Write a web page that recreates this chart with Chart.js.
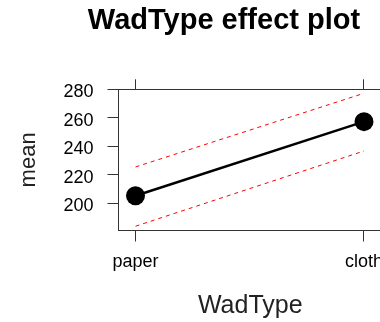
<!DOCTYPE html>
<html>
<head>
<meta charset="utf-8">
<script src="https://cdn.jsdelivr.net/npm/chart.js@4/dist/chart.umd.min.js"></script>
<style>
  html, body { margin: 0; padding: 0; background: #fff; overflow: hidden; }
  #wrap { width: 448px; height: 322px; }
</style>
</head>
<body>
<div id="wrap"><canvas id="c" width="448" height="322"></canvas></div>
<script>
// WadType levels and fitted means with 95% confidence band
const categories = ['paper', 'cloth'];
const fitMean  = [205.3, 257.3];
const ciUpper  = [225.5, 277.2];
const ciLower  = [183.9, 236.7];
const yTicks   = [200, 220, 240, 260, 280];

const toPoints = vals => vals.map((v, i) => ({ x: i, y: v }));
const frame = '#333';
const FONT = '"Liberation Sans", Arial, sans-serif';
const X_MIN = -0.0744, X_MAX = 1.0788;

const levelTicks = scale => { scale.ticks = categories.map((_, i) => ({ value: i })); };

new Chart(document.getElementById('c'), {
  type: 'line',
  data: {
    datasets: [
      { label: 'mean', data: toPoints(fitMean), borderColor: '#000', backgroundColor: '#000',
        borderWidth: 2.5, pointRadius: 9.5, pointHoverRadius: 9.5, pointBorderWidth: 0 },
      { label: 'upper', data: toPoints(ciUpper), borderColor: '#ff0000', borderWidth: 1,
        borderDash: [4, 4], pointRadius: 0 },
      { label: 'lower', data: toPoints(ciLower), borderColor: '#ff0000', borderWidth: 1,
        borderDash: [4, 4], pointRadius: 0 }
    ]
  },
  options: {
    responsive: false,
    animation: false,
    layout: { padding: 0 },
    plugins: {
      legend: { display: false },
      tooltip: { enabled: false },
      title: {
        display: true,
        text: 'WadType effect plot',
        color: '#000',
        font: { family: FONT, size: 29, weight: 'bold' },
        padding: { top: 4, bottom: 40.5 }
      }
    },
    scales: {
      x: {
        type: 'linear', position: 'bottom', min: X_MIN, max: X_MAX,
        afterBuildTicks: levelTicks,
        afterFit: s => { s.height = 91.5; },
        grid: { drawOnChartArea: false, drawTicks: true, tickLength: 11, color: frame, lineWidth: 1 },
        border: { display: true, color: frame, width: 1 },
        ticks: { color: '#000', padding: 10, maxRotation: 0,
                 font: { family: FONT, size: 18 },
                 callback: v => categories[v] },
        title: { display: true, text: 'WadType', color: '#222',
                 font: { family: FONT, size: 25 }, padding: { top: 0, bottom: 1 } }
      },
      x2: {
        type: 'linear', position: 'top', min: X_MIN, max: X_MAX,
        afterBuildTicks: levelTicks,
        afterFit: s => { s.height = 10; },
        grid: { drawOnChartArea: false, drawTicks: true, tickLength: 10, color: frame, lineWidth: 1 },
        border: { display: true, color: frame, width: 1 },
        ticks: { display: false }
      },
      y: {
        type: 'linear', position: 'left', min: 180.9, max: 280,
        afterBuildTicks: s => { s.ticks = yTicks.map(v => ({ value: v })); },
        afterFit: s => { s.width = 118.5; },
        grid: { drawOnChartArea: false, drawTicks: true, tickLength: 11, color: frame, lineWidth: 1 },
        border: { display: true, color: frame, width: 1 },
        ticks: { color: '#000', padding: 14, labelOffset: 3,
                 font: { family: FONT, size: 18 } },
        title: { display: true, text: 'mean', color: '#222',
                 font: { family: FONT, size: 22 }, padding: { top: 15.6, bottom: 0 } }
      },
      y2: {
        type: 'linear', position: 'right', min: 180.9, max: 280,
        afterBuildTicks: s => { s.ticks = yTicks.map(v => ({ value: v })); },
        afterFit: s => { s.width = 66; },
        grid: { drawOnChartArea: false, drawTicks: true, tickLength: 11, color: frame, lineWidth: 1 },
        border: { display: true, color: frame, width: 1 },
        ticks: { display: false }
      }
    }
  }
});
</script>
</body>
</html>
